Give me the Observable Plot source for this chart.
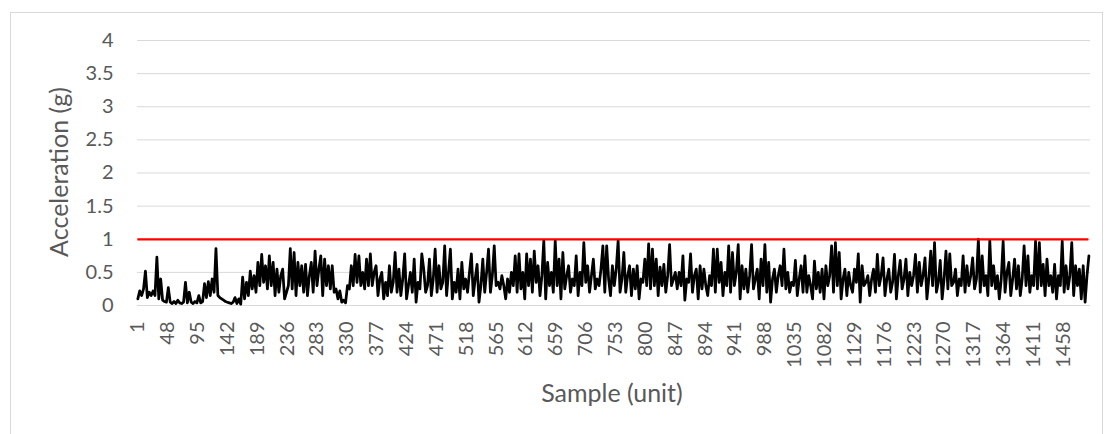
<!DOCTYPE html>
<html><head><meta charset="utf-8">
<script src="https://cdn.jsdelivr.net/npm/d3@7"></script>
<script src="https://cdn.jsdelivr.net/npm/@observablehq/plot@0.6"></script>
<style>
html,body{margin:0;padding:0;background:#fff;}
#wrap{position:relative;width:1106px;height:434px;overflow:hidden;}
#frame{position:absolute;left:10px;top:12px;width:1093px;height:440px;border:1px solid #d9d9d9;box-sizing:border-box;}
#chart{position:absolute;left:0;top:0;}
</style></head><body>
<div id="wrap"><div id="frame"></div><div id="chart"></div></div>
<script>
// Acceleration readings (g), one value every 3 samples
const seg0 = [0.1,0.22,0.15,0.25,0.52,0.12,0.2,0.15,0.22,0.15,0.73,0.1,0.4,0.08,0.06,0.05,0.27,0.05,0.03,0.06,0.03,0.08,0.04,0.03,0.05,0.35,0.04,0.2,0.05,0.03,0.06,0.04,0.15,0.04,0.06,0.33,0.12,0.36,0.15,0.4,0.2,0.86,0.15,0.12,0.1,0.08,0.06,0.05,0.04,0.03];
const seg1 = [0.05,0.12,0.03,0.1,0.02,0.43,0.1,0.35,0.15,0.52,0.25,0.45,0.2,0.65,0.3,0.77,0.35,0.6,0.25,0.75,0.3,0.65,0.15,0.55,0.2,0.45,0.55,0.1,0.2,0.3,0.86,0.25,0.8,0.15,0.65,0.3,0.6,0.2,0.62,0.15,0.45,0.65,0.2,0.82,0.3,0.55,0.75,0.15,0.7,0.3];
const seg2 = [0.6,0.25,0.6,0.2,0.25,0.1,0.22,0.05,0.08,0.04,0.3,0.25,0.6,0.3,0.77,0.35,0.75,0.3,0.5,0.25,0.7,0.3,0.78,0.3,0.5,0.6,0.15,0.4,0.5,0.1,0.35,0.15,0.6,0.2,0.35,0.8,0.2,0.55,0.15,0.4,0.78,0.1,0.3,0.5,0.2,0.7,0.05,0.35,0.25,0.78];
const seg3 = [0.55,0.2,0.3,0.7,0.15,0.4,0.85,0.2,0.6,0.25,0.35,0.9,0.15,0.5,0.85,0.1,0.35,0.2,0.55,0.1,0.65,0.25,0.4,0.2,0.5,0.78,0.15,0.4,0.62,0.05,0.3,0.7,0.2,0.5,0.85,0.2,0.45,0.9,0.3,0.35,0.25,0.45,0.3,0.1,0.4,0.2,0.5,0.3,0.75,0.2];
const seg4 = [0.78,0.25,0.5,0.1,0.78,0.3,0.7,0.2,0.82,0.35,0.6,0.15,0.45,0.98,0.1,0.65,0.3,0.5,0.2,0.98,0.3,0.7,0.1,0.8,0.25,0.45,0.6,0.2,0.4,0.3,0.75,0.15,0.5,0.3,0.95,0.35,0.6,0.2,0.45,0.7,0.25,0.4,0.3,0.55,0.9,0.2,0.9,0.4,0.15,0.6];
const seg5 = [0.3,0.55,0.98,0.2,0.4,0.8,0.2,0.45,0.6,0.15,0.55,0.25,0.6,0.1,0.4,0.35,0.7,0.3,0.93,0.25,0.85,0.3,0.7,0.15,0.58,0.3,0.62,0.2,0.45,0.92,0.3,0.4,0.5,0.25,0.5,0.3,0.75,0.08,0.4,0.35,0.78,0.2,0.45,0.55,0.1,0.6,0.25,0.55,0.3,0.15];
const seg6 = [0.45,0.3,0.85,0.2,0.85,0.35,0.65,0.15,0.5,0.3,0.9,0.2,0.8,0.3,0.5,0.92,0.1,0.6,0.25,0.55,0.2,0.45,0.92,0.25,0.4,0.55,0.1,0.7,0.3,0.92,0.2,0.65,0.05,0.4,0.55,0.2,0.45,0.6,0.3,0.85,0.25,0.5,0.2,0.35,0.3,0.68,0.15,0.4,0.6,0.2];
const seg7 = [0.75,0.2,0.45,0.3,0.1,0.67,0.25,0.5,0.2,0.55,0.1,0.6,0.3,0.45,0.9,0.2,0.95,0.3,0.8,0.1,0.4,0.55,0.15,0.5,0.3,0.2,0.55,0.35,0.78,0.05,0.6,0.3,0.35,0.45,0.15,0.4,0.55,0.2,0.77,0.3,0.45,0.72,0.15,0.4,0.55,0.2,0.35,0.77,0.1,0.45];
const seg8 = [0.68,0.25,0.4,0.7,0.15,0.5,0.3,0.45,0.77,0.2,0.65,0.3,0.45,0.72,0.1,0.4,0.82,0.3,0.95,0.2,0.35,0.68,0.1,0.4,0.82,0.25,0.78,0.3,0.35,0.55,0.15,0.4,0.3,0.75,0.2,0.6,0.3,0.45,0.72,0.25,0.4,1.0,0.2,0.75,0.3,0.45,0.15,0.98,0.3,0.6];
const seg9 = [0.25,0.45,0.1,0.4,0.97,0.2,0.5,0.65,0.15,0.4,0.7,0.25,0.6,0.15,0.4,0.9,0.3,0.75,0.2,0.45,0.3,0.97,0.25,0.95,0.3,0.62,0.15,0.7,0.3,0.45,0.2,0.62,0.1,0.45,0.3,0.97,0.2,0.6,0.25,0.45,0.95,0.15,0.6,0.3,0.55,0.1,0.6,0.05,0.45,0.75];
const sampleStep = 3;
const sampleCount = 1500;
const threshold = 1;
const yTicks = [0, 0.5, 1, 1.5, 2, 2.5, 3, 3.5, 4];
const xTicks = [1,48,95,142,189,236,283,330,377,424,471,518,565,612,659,706,753,800,847,894,941,988,1035,1082,1129,1176,1223,1270,1317,1364,1411,1458];
const yLabel = "Acceleration (g)";
const xLabel = "Sample (unit)";

const acceleration = [...seg0, ...seg1, ...seg2, ...seg3, ...seg4, ...seg5, ...seg6, ...seg7, ...seg8, ...seg9];
const data = acceleration.map((v, i) => ({sample: 1 + i * sampleStep, value: v}));
const lastSample = data[data.length - 1].sample;

const chart = Plot.plot({
  width: 1106,
  height: 434,
  marginLeft: 137,
  marginRight: 16,
  marginTop: 40,
  marginBottom: 129,
  style: {fontFamily: "Lato, sans-serif", color: "#595959", background: "transparent", overflow: "visible"},
  x: {domain: [0.5, sampleCount + 0.5], axis: null},
  y: {domain: [0, 4], axis: null},
  marks: [
    Plot.gridY(yTicks, {stroke: "#d9d9d9", strokeOpacity: 1, strokeWidth: 1}),
    Plot.axisY(yTicks, {tickSize: 0, tickPadding: 24, fontSize: 20, label: null, tickFormat: d => String(d), fill: "#595959"}),
    Plot.text(xTicks, {x: d => d, frameAnchor: "bottom", text: d => String(d), rotate: -90, textAnchor: "end", lineAnchor: "middle", dy: 16, fontSize: 20, fill: "#595959"}),
    Plot.line(data, {x: "sample", y: "value", stroke: "#000000", strokeWidth: 2.75, strokeLinejoin: "round"}),
    Plot.ruleY([threshold], {x1: 1, x2: lastSample, stroke: "#ff0000", strokeWidth: 2.25})
  ]
});

const svg = d3.select(chart);
svg.append("text")
  .attr("transform", "translate(62,172) rotate(-90)")
  .attr("text-anchor", "middle").attr("dominant-baseline", "middle")
  .attr("font-size", 25).attr("fill", "#595959").text(yLabel);
svg.append("text")
  .attr("x", 612).attr("y", 396)
  .attr("text-anchor", "middle").attr("dominant-baseline", "middle")
  .attr("font-size", 25).attr("fill", "#595959").text(xLabel);

document.getElementById("chart").appendChild(chart);
</script>
</body></html>
